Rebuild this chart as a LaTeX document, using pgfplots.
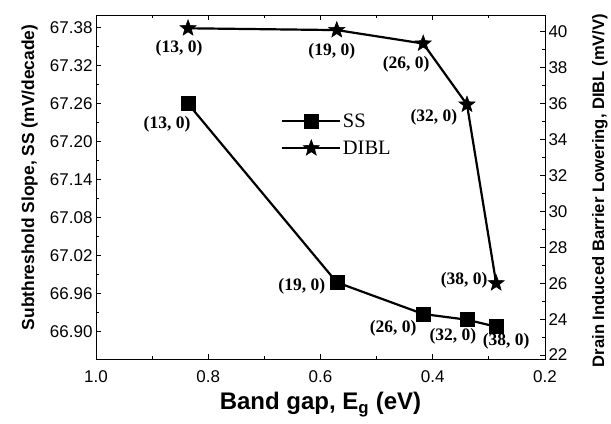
\documentclass[border=0pt]{standalone}
\usepackage{fontspec}
\setmainfont{Liberation Serif}
\setsansfont{Liberation Sans}
\usepackage{pgfplots}
\pgfplotsset{compat=1.18}
\pgfplotstableread{
eg ss
0.836 67.260
0.571 66.978
0.417 66.928
0.339 66.919
0.287 66.908
}\sstable
\pgfplotstableread{
eg dibl
0.836 40.20
0.571 40.10
0.417 39.35
0.339 35.95
0.287 26.00
}\dibltable
\pgfdeclareplotmark{fivestar}{%
  \pgfpathmoveto{\pgfpointpolar{90}{\pgfplotmarksize}}%
  \pgfpathlineto{\pgfpointpolar{126}{0.42\pgfplotmarksize}}%
  \pgfpathlineto{\pgfpointpolar{162}{\pgfplotmarksize}}%
  \pgfpathlineto{\pgfpointpolar{198}{0.42\pgfplotmarksize}}%
  \pgfpathlineto{\pgfpointpolar{234}{\pgfplotmarksize}}%
  \pgfpathlineto{\pgfpointpolar{270}{0.42\pgfplotmarksize}}%
  \pgfpathlineto{\pgfpointpolar{306}{\pgfplotmarksize}}%
  \pgfpathlineto{\pgfpointpolar{342}{0.42\pgfplotmarksize}}%
  \pgfpathlineto{\pgfpointpolar{18}{\pgfplotmarksize}}%
  \pgfpathlineto{\pgfpointpolar{54}{0.42\pgfplotmarksize}}%
  \pgfpathclose
  \pgfusepathqfillstroke
}
\tikzset{ptlab/.style={font=\bfseries\fontsize{17.5bp}{19bp}\selectfont}}
\begin{document}
\begin{tikzpicture}
\pgfplotsset{
  myaxis/.style={
    scale only axis, width=449bp, height=344bp,
    xmin=0.2, xmax=1.0, x dir=reverse,
    tick align=inside, major tick length=5.5bp, minor tick length=3.5bp,
    /pgf/number format/assume math mode=true,
    tick label style={font=\sffamily\fontsize{17bp}{19bp}\selectfont, text=black},
    axis line style={line width=0.9bp},
    every tick/.style={line width=0.8bp, black},
  },
}
\begin{axis}[myaxis, at={(0,0)}, anchor=south west,
  ymin=66.857, ymax=67.40,
  ytick={66.90,66.96,67.02,67.08,67.14,67.20,67.26,67.32,67.38},
  minor y tick num=1, ytick pos=left,
  xtick={0.2,0.4,0.6,0.8,1.0}, minor x tick num=1,
  xticklabel style={yshift=-8bp, /pgf/number format/.cd, fixed, fixed zerofill, precision=1},
  yticklabel style={/pgf/number format/.cd, fixed, fixed zerofill, precision=2},
  xlabel={Band gap, E\textsubscript{g} (eV)},
  xlabel style={font=\sffamily\bfseries\fontsize{24bp}{28bp}\selectfont, at={(axis description cs:0.5,0)}, anchor=north, yshift=-30bp},
  ylabel={Subthreshold Slope, SS (mV/decade)},
  ylabel style={font=\sffamily\bfseries\fontsize{17.4bp}{20bp}\selectfont, at={(axis description cs:-0.148,0.528)}, anchor=center},
]
\addplot[black, line width=2.2bp, mark=square*, mark size=7bp, mark options={solid, line width=0.5bp}] table[x=eg, y=ss] {\sstable};
\node[ptlab] at (axis cs:0.836,67.260) [xshift=-21bp, yshift=-21bp] {(13, 0)};
\node[ptlab] at (axis cs:0.571,66.978) [xshift=-35bp, yshift=-4bp] {(19, 0)};
\node[ptlab] at (axis cs:0.417,66.928) [xshift=-30bp, yshift=-14bp] {(26, 0)};
\node[ptlab] at (axis cs:0.339,66.919) [xshift=-14bp, yshift=-17bp] {(32, 0)};
\node[ptlab] at (axis cs:0.287,66.908) [xshift=10bp, yshift=-15bp] {(38, 0)};
\end{axis}
\begin{axis}[myaxis, at={(0,0)}, anchor=south west,
  axis x line=none, axis y line*=right,
  ymin=21.78, ymax=40.94,
  ytick={22,24,...,40}, minor y tick num=1,
  ylabel={Drain Induced Barrier Lowering, DIBL (mV/V)},
  ylabel style={font=\sffamily\bfseries\fontsize{16.6bp}{19bp}\selectfont, at={(axis description cs:1.122,0.49)}, anchor=center},
  legend style={draw=none, fill=none, at={(0.412,0.718)}, anchor=north west,
    inner sep=0pt, row sep=9bp,
    nodes={inner sep=1.5bp, font=\fontsize{20.5bp}{22bp}\selectfont}},
  legend cell align=left,
  legend image code/.code={\draw[mark repeat=2,mark phase=2] plot coordinates {(0bp,0bp) (29bp,0bp) (58bp,0bp)};},
]
\addlegendimage{black, line width=2.2bp, mark=square*, mark size=7bp, mark options={solid, line width=0.5bp}}
\addlegendentry{SS}
\addplot[black, line width=2.2bp, mark=fivestar, mark size=8.5bp, mark options={solid, fill=black, line width=0.5bp}] table[x=eg, y=dibl] {\dibltable};
\addlegendentry{DIBL}
\node[ptlab] at (axis cs:0.836,40.20) [xshift=-9bp, yshift=-20bp] {(13, 0)};
\node[ptlab] at (axis cs:0.571,40.10) [xshift=-5bp, yshift=-21bp] {(19, 0)};
\node[ptlab] at (axis cs:0.417,39.35) [xshift=-17bp, yshift=-21bp] {(26, 0)};
\node[ptlab] at (axis cs:0.339,35.95) [xshift=-33bp, yshift=-13bp] {(32, 0)};
\node[ptlab] at (axis cs:0.287,26.00) [xshift=-32bp, yshift=3bp] {(38, 0)};
\end{axis}
\path[use as bounding box] (-96bp,-65bp) rectangle (515bp,359bp);
\end{tikzpicture}
\end{document}
